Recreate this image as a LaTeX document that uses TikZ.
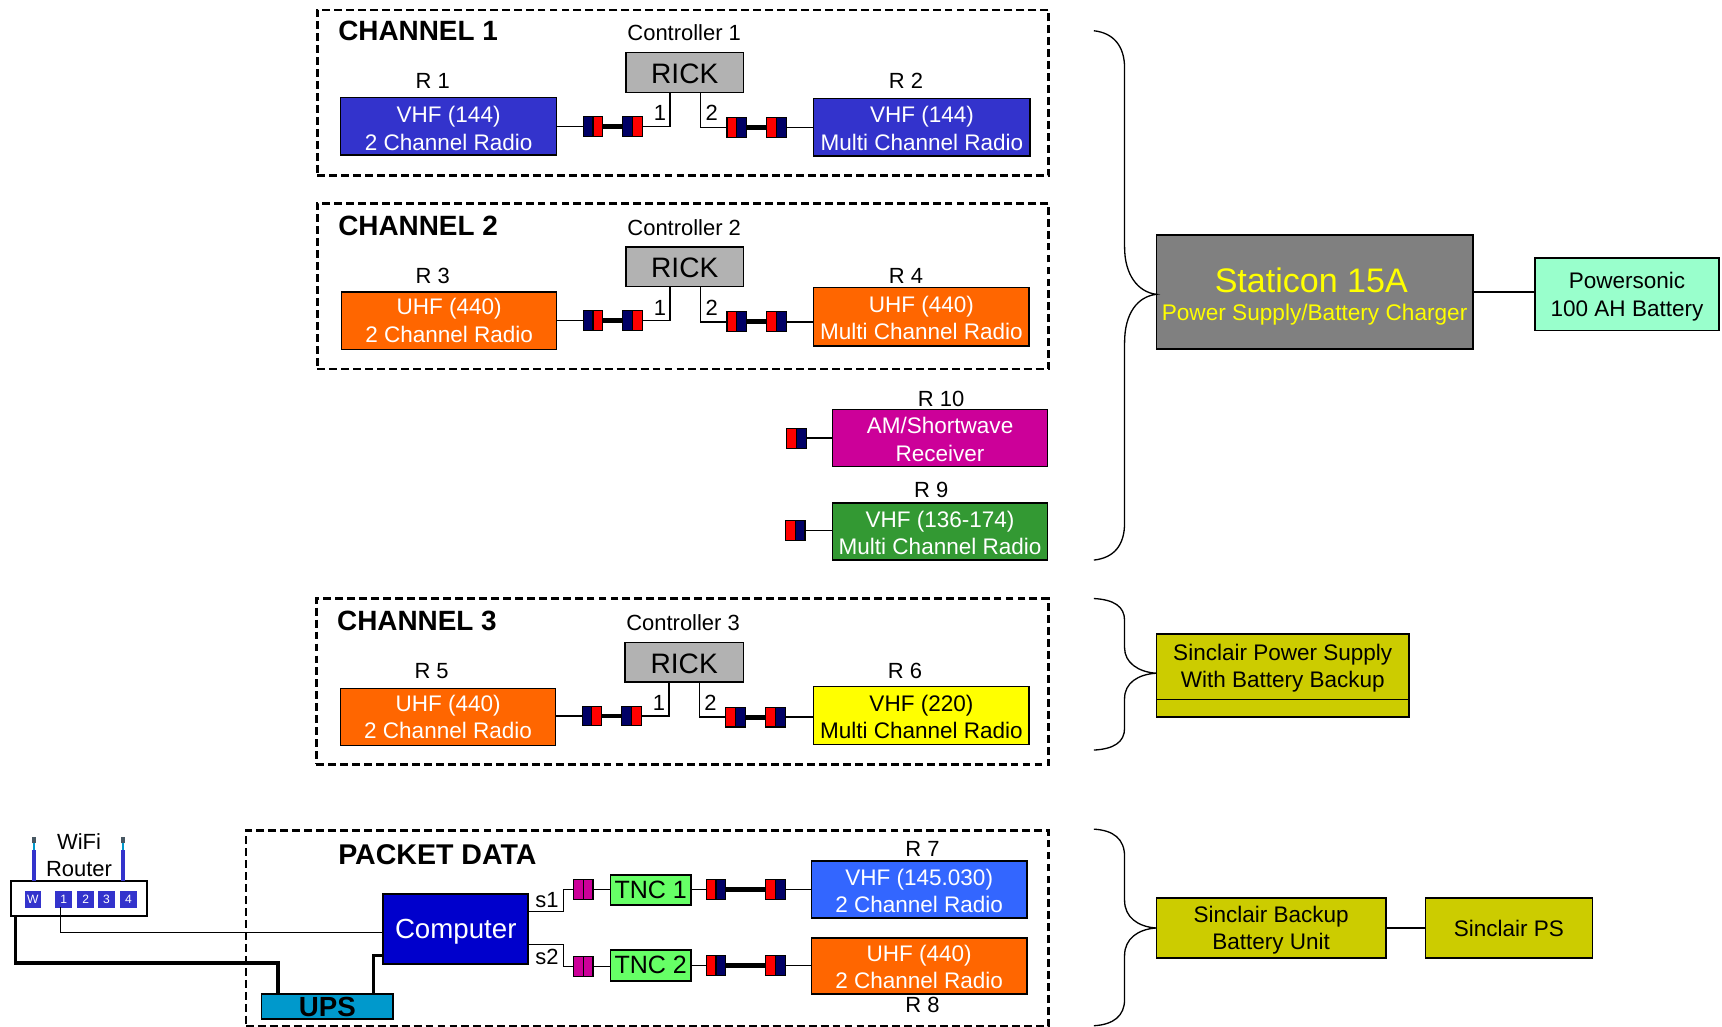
\documentclass[tikz,border=0pt]{standalone}
\usepackage{fontspec}
\setmainfont{Liberation Sans}
\usetikzlibrary{calc}
\definecolor{cblue}{HTML}{3333CC}
\definecolor{corange}{HTML}{FF6600}
\definecolor{cmag}{HTML}{CC0099}
\definecolor{cgreen}{HTML}{339933}
\definecolor{cyel}{HTML}{FFFF00}
\definecolor{cr7}{HTML}{3366FF}
\definecolor{ccomp}{HTML}{0000CC}
\definecolor{ctnc}{HTML}{66FF66}
\definecolor{cgrey}{HTML}{B2B2B2}
\definecolor{cstat}{HTML}{808080}
\definecolor{cbat}{HTML}{99FFCC}
\definecolor{csin}{HTML}{CCCC00}
\definecolor{cups}{HTML}{0099CC}
\definecolor{cnavy}{HTML}{000066}
\definecolor{cred}{HTML}{FF0000}
\definecolor{ccyan}{HTML}{0099CC}
\tikzset{
  x=0.5pt,y=-0.5pt,
  boxed/.style={draw=black,line width=0.6pt,align=center,inner sep=0pt,outer sep=0pt,font=\fontsize{10.25}{12.5}\selectfont},
  whitebox/.style={boxed,text=white},
  blackbox/.style={boxed,text=black},
  plughalf/.style={draw=black,line width=0.5pt,inner sep=0pt,outer sep=0pt,minimum width=4.5pt,minimum height=9pt},
  wire/.style={draw=black,line width=0.7pt},
  fatwire/.style={draw=black,line width=2.2pt},
  heavywire/.style={draw=black,line width=1.6pt},
  region/.style={draw=black,line width=1.25pt,dash pattern=on 3.6pt off 1.85pt},
  lab/.style={inner sep=0pt,outer sep=0pt,font=\fontsize{10}{12}\selectfont},
  chtitle/.style={inner sep=0pt,outer sep=0pt,anchor=west,font=\fontsize{12.7}{14}\bfseries\selectfont},
  brace/.style={draw=black,line width=0.6pt},
  port/.style={fill=cblue,text=white,inner sep=0pt,outer sep=0pt,minimum size=7.5pt,font=\fontsize{5.5}{6}\selectfont},
}
% struts that lower the text inside a box: a taller first line
\newcommand{\lowa}{\rule{0pt}{8.6pt}}
\newcommand{\lowb}{\rule{0pt}{9.6pt}}
% name, x1, y1, x2, y2, style, text
\newcommand{\bx}[7]{%
  \pgfmathsetmacro{\bxw}{(#4-#2)*0.5}%
  \pgfmathsetmacro{\bxh}{(#5-#3)*0.5}%
  \node[#6,minimum width=\bxw pt,minimum height=\bxh pt] (#1) at ({(#2+#4)/2},{(#3+#5)/2}) {#7};}
% name, left x, center y, colour a, colour b
\newcommand{\plug}[5]{%
  \node[plughalf,fill=#4,anchor=east] (#1a) at (#2+9,#3) {};
  \node[plughalf,fill=#5,anchor=west] (#1b) at (#2+9,#3) {};}
\begin{document}
\begin{tikzpicture}
\useasboundingbox (0,0) rectangle (1568,935.1);

% CHANNEL 1
\node[region,inner sep=0pt,minimum width=333pt,minimum height=75.5pt] (reg1) at (622,84.5) {};
\node[chtitle] (t1) at (308,28.5) {CHANNEL 1};
\node[lab] (c1) at (623,30) {Controller 1};
\bx{rick1}{570}{48}{677}{84}{blackbox,fill=cgrey,font=\fontsize{12.8}{14}\selectfont}{\rule{0pt}{10.2pt}RICK}
\node[lab] (l1) at (394,73.5) {R 1};
\node[lab] (l2) at (825,74) {R 2};
\bx{r1}{310}{89}{507}{141}{whitebox,fill=cblue}{\lowb VHF (144)\\2 Channel Radio}
\bx{r2}{741}{90}{938}{142}{whitebox,fill=cblue}{\lowa VHF (144)\\Multi Channel Radio}
\plug{pa}{531}{115}{cnavy}{cred}
\plug{pb}{567}{115}{cnavy}{cred}
\plug{pc}{662}{116}{cred}{cnavy}
\plug{pd}{698}{116}{cred}{cnavy}
\coordinate (k1l) at (610,84);
\coordinate (k1r) at (638,84);
\draw[wire] (paa.west -| r1.east) -- (paa.west);
\draw[fatwire] (pab.east) -- (pba.west);
\draw[wire] (pbb.east) -| (k1l);
\draw[wire] (pca.west) -| (k1r);
\draw[fatwire] (pcb.east) -- (pda.west);
\draw[wire] (pdb.east) -- (pdb.east -| r2.west);
\node[lab] (n11) at (601,103) {1};
\node[lab] (n12) at (648,103) {2};

% CHANNEL 2
\node[region,inner sep=0pt,minimum width=333pt,minimum height=75.5pt] (reg2) at (622,260.5) {};
\node[chtitle] (t2) at (308,205.5) {CHANNEL 2};
\node[lab] (c2) at (623,207) {Controller 2};
\bx{rick2}{570}{225}{677}{261}{blackbox,fill=cgrey,font=\fontsize{12.8}{14}\selectfont}{\rule{0pt}{10.2pt}RICK}
\node[lab] (l3) at (394,251) {R 3};
\node[lab] (l4) at (825,251) {R 4};
\bx{r3}{311}{266}{507}{318}{whitebox,fill=corange}{UHF (440)\\2 Channel Radio}
\bx{r4}{741}{262}{937}{315}{whitebox,fill=corange}{\lowa UHF (440)\\Multi Channel Radio}
\plug{qa}{531}{292}{cnavy}{cred}
\plug{qb}{567}{292}{cnavy}{cred}
\plug{qc}{662}{293}{cred}{cnavy}
\plug{qd}{698}{293}{cred}{cnavy}
\coordinate (k2l) at (610,261);
\coordinate (k2r) at (638,261);
\draw[wire] (qaa.west -| r3.east) -- (qaa.west);
\draw[fatwire] (qab.east) -- (qba.west);
\draw[wire] (qbb.east) -| (k2l);
\draw[wire] (qca.west) -| (k2r);
\draw[fatwire] (qcb.east) -- (qda.west);
\draw[wire] (qdb.east) -- (qdb.east -| r4.west);
\node[lab] (n21) at (601,280) {1};
\node[lab] (n22) at (648,280) {2};

% R10, R9
\node[lab] (l10) at (857,363.5) {R 10};
\bx{r10}{758}{373}{954}{425}{whitebox,fill=cmag}{\lowa AM/Shortwave\\Receiver}
\plug{ra}{716}{399}{cred}{cnavy}
\draw[wire] (rab.east) -- (rab.east -| r10.west);
\node[lab] (l9) at (848,446.5) {R 9};
\bx{r9}{758}{458}{954}{510}{whitebox,fill=cgreen}{\lowa VHF (136-174)\\Multi Channel Radio}
\plug{rb}{715}{483}{cred}{cnavy}
\draw[wire] (rbb.east) -- (rbb.east -| r9.west);

% CHANNEL 3
\node[region,inner sep=0pt,minimum width=333.5pt,minimum height=75.5pt] (reg3) at (621.5,620.5) {};
\node[chtitle] (t3) at (307,565.5) {CHANNEL 3};
\node[lab] (c3) at (622,567) {Controller 3};
\bx{rick3}{569}{585}{677}{621}{blackbox,fill=cgrey,font=\fontsize{12.8}{14}\selectfont}{\rule{0pt}{10.2pt}RICK}
\node[lab] (l5) at (393,611) {R 5};
\node[lab] (l6) at (824,611) {R 6};
\bx{r5}{310}{627}{506}{679}{whitebox,fill=corange}{UHF (440)\\2 Channel Radio}
\bx{r6}{741}{625}{937}{678}{blackbox,fill=cyel}{\lowa VHF (220)\\Multi Channel Radio}
\plug{sa}{530}{652}{cnavy}{cred}
\plug{sb}{566}{652}{cnavy}{cred}
\plug{sc}{661}{653}{cred}{cnavy}
\plug{sd}{697}{653}{cred}{cnavy}
\coordinate (k3l) at (609,621);
\coordinate (k3r) at (637,621);
\draw[wire] (saa.west -| r5.east) -- (saa.west);
\draw[fatwire] (sab.east) -- (sba.west);
\draw[wire] (sbb.east) -| (k3l);
\draw[wire] (sca.west) -| (k3r);
\draw[fatwire] (scb.east) -- (sda.west);
\draw[wire] (sdb.east) -- (sdb.east -| r6.west);
\node[lab] (n31) at (600,640) {1};
\node[lab] (n32) at (647,640) {2};

% PACKET DATA
\node[region,inner sep=0pt,minimum width=365.5pt,minimum height=89.25pt] (reg4) at (589.5,845.25) {};
\node[chtitle,font=\fontsize{13}{15}\bfseries\selectfont] (t4) at (308,778) {PACKET DATA};
\node[lab] (l7) at (840,773) {R 7};
\node[lab] (l8) at (840,915) {R 8};
\bx{r7}{739}{784}{935}{836}{whitebox,fill=cr7}{\lowa VHF (145.030)\\2 Channel Radio}
\bx{r8}{739}{854}{935}{905}{whitebox,fill=corange}{\lowa UHF (440)\\2 Channel Radio}
\node[lab] (s1) at (498,820) {s1};
\node[lab] (s2) at (498,871) {s2};
\bx{tnc1}{556}{797}{629}{824}{blackbox,fill=ctnc,line width=0.8pt,font=\fontsize{11.4}{13}\selectfont}{TNC 1}
\bx{tnc2}{556}{865}{629}{893}{blackbox,fill=ctnc,line width=0.8pt,font=\fontsize{11.4}{13}\selectfont}{TNC 2}
\plug{ma}{522}{810}{cmag}{cmag}
\plug{mb}{522}{880}{cmag}{cmag}
\plug{ta}{643}{810}{cred}{cnavy}
\plug{tb}{697}{810}{cred}{cnavy}
\plug{tc}{643}{879}{cred}{cnavy}
\plug{td}{697}{879}{cred}{cnavy}
\coordinate (cs1) at (481,830);
\coordinate (cs2) at (481,860);
\coordinate (bs1) at (513,830);
\coordinate (bs2) at (513,860);
\draw[wire] (cs1) -- (bs1) |- (maa.west);
\draw[wire] (cs2) -- (bs2) |- (mba.west);
\draw[wire] (mab.east) -- (mab.east -| tnc1.west);
\draw[wire] (mbb.east) -- (mbb.east -| tnc2.west);
\draw[wire] (taa.west -| tnc1.east) -- (taa.west);
\draw[fatwire] (tab.east) -- (tba.west);
\draw[wire] (tbb.east) -- (tbb.east -| r7.west);
\draw[wire] (tca.west -| tnc2.east) -- (tca.west);
\draw[fatwire] (tcb.east) -- (tda.west);
\draw[wire] (tdb.east) -- (tdb.east -| r8.west);

% Router
\node[lab] (wifi) at (72,766) {WiFi};
\node[lab] (rout) at (72,791) {Router};
\bx{router}{10}{802}{134}{834}{blackbox,fill=white,line width=0.8pt}{}
\node[port] (pw) at (30,819) {W};
\node[port] (p1) at (58,819) {1};
\node[port] (p2) at (78,819) {2};
\node[port] (p3) at (97,819) {3};
\node[port] (p4) at (117,819) {4};
\coordinate (a1a) at (31,802);\coordinate (a1b) at (31,774);\coordinate (a1c) at (31,768);\coordinate (a1d) at (31,762);
\coordinate (a2a) at (112,802);\coordinate (a2b) at (112,774);\coordinate (a2c) at (112,768);\coordinate (a2d) at (112,762);
\draw[cblue,line width=1.6pt] (a1a) -- (a1b);
\draw[ccyan,line width=0.5pt] (a1b) -- (a1c);
\draw[black!70!cyan,line width=1.6pt] (a1c) -- (a1d);
\draw[cblue,line width=1.6pt] (a2a) -- (a2b);
\draw[ccyan,line width=0.5pt] (a2b) -- (a2c);
\draw[black!70!cyan,line width=1.6pt] (a2c) -- (a2d);
\coordinate (p1s) at (55,826);
\coordinate (p1t) at (55,849);
\coordinate (cmpl) at (349,849);
\draw[wire] (p1s) -- (p1t) -- (cmpl);
\coordinate (rtl) at (14,834);
\coordinate (rtc) at (14,877);
\coordinate (uptl) at (253,905);
\coordinate (uptr) at (340,905);
\coordinate (cmpb) at (349,870);
\draw[heavywire] (rtl) -- (rtc) -| (uptl);
\draw[heavywire] (uptr) |- (cmpb);
\bx{comp}{349}{814}{481}{878}{whitebox,fill=ccomp,line width=0.8pt,font=\fontsize{12.6}{14}\selectfont}{\rule{0pt}{10.9pt}Computer}
\bx{ups}{238}{905}{358}{928}{blackbox,fill=cups,line width=0.8pt,font=\fontsize{12.6}{14}\bfseries\selectfont}{UPS}

% Power
\bx{stat}{1053}{214}{1341}{318}{boxed,fill=cstat,text=cyel,line width=0.8pt}{\fontsize{15.5}{17}\selectfont\rule{0pt}{15.4pt}Staticon 15A\kern3pt\\\fontsize{10.3}{14}\selectfont Power Supply/Battery Charger}
\bx{bat}{1398}{235}{1565}{301}{blackbox,fill=cbat,line width=0.8pt}{\lowb Powersonic\\100 AH Battery}
\coordinate (statw) at (1341,266);
\coordinate (batw) at (1398,266);
\draw[wire] (statw) -- (batw);
\bx{sinc}{1053}{577}{1283}{653}{blackbox,fill=csin,line width=0.8pt}{}
\node[lab,font=\fontsize{10.25}{12.3}\selectfont,align=center] (sinct) at (1168,608.5) {Sinclair Power Supply\\With Battery Backup};
\coordinate (sl) at (1053,637);
\coordinate (sr) at (1283,637);
\draw[wire] (sl) -- (sr);
\bx{back}{1053}{818}{1262}{872}{blackbox,fill=csin,line width=0.8pt}{\lowb Sinclair Backup\\Battery Unit}
\bx{ps}{1298}{818}{1450}{872}{blackbox,fill=csin,line width=0.8pt}{Sinclair PS}
\draw[wire] (back.east) -- (ps.west);

% Braces
\coordinate (b1) at (996,28);\coordinate (b1e) at (996,510);
\coordinate (b2) at (996,545);\coordinate (b2e) at (996,683);
\coordinate (b3) at (996,755);\coordinate (b3e) at (996,934);
\draw[brace] (b1) .. controls (1014,30) and (1024,42) .. (1024,62) -- (1024,225)
  .. controls (1024,250) and (1036,266) .. (1053,268)
  .. controls (1036,270) and (1024,285) .. (1024,312) -- (1024,476)
  .. controls (1024,497) and (1014,508) .. (b1e);
\draw[brace] (b2) .. controls (1014,546) and (1024,552) .. (1024,565) -- (1024,590)
  .. controls (1024,603) and (1036,612) .. (1053,613)
  .. controls (1036,614) and (1024,622) .. (1024,636) -- (1024,663)
  .. controls (1024,676) and (1014,682) .. (b2e);
\draw[brace] (b3) .. controls (1014,756) and (1024,764) .. (1024,780) -- (1024,820)
  .. controls (1024,835) and (1036,844) .. (1053,845)
  .. controls (1036,846) and (1024,855) .. (1024,870) -- (1024,910)
  .. controls (1024,925) and (1014,933) .. (b3e);
\end{tikzpicture}
\end{document}
